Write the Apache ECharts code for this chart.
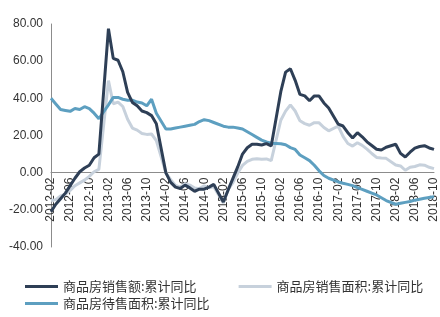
<!DOCTYPE html>
<html>
<head>
<meta charset="utf-8">
<script src="https://cdn.jsdelivr.net/npm/echarts@6/dist/echarts.min.js"></script>
<style>
    html, body { margin: 0; padding: 0; background: #fff; }
    #main { width: 440px; height: 317px; }
</style>
</head>
<body>
<div id="main"></div>
<script>
// months 2012-02 .. 2018-10, january has no value (jan-feb reported together)
var startYear = 2012, startMonth = 2, endYear = 2018, endMonth = 10;

var seriesNames = ['商品房销售额:累计同比', '商品房销售面积:累计同比', '商品房待售面积:累计同比'];

var salesAmount = [
    -21.0, -17.0, -14.0, -11.0, -7.0, -3.0, 0.5, 2.5, 4.0, 8.0, 10.0,
    null, 77.5, 61.5, 60.5, 54.3, 43.2, 37.8, 36.0, 33.2, 32.3, 30.7, 26.3,
    null, -0.1, -5.2, -7.8, -8.5, -6.7, -8.2, -10.0, -8.9, -8.9, -7.8, -6.3,
    null, -15.8, -9.3, -3.1, 3.1, 10.0, 13.4, 15.3, 15.3, 14.9, 15.6, 14.4,
    null, 43.6, 54.1, 55.9, 49.7, 42.1, 41.3, 38.7, 41.3, 41.2, 37.5, 34.8,
    null, 26.1, 25.1, 21.5, 18.6, 21.5, 19.3, 16.6, 14.6, 12.6, 12.2, 13.7,
    null, 15.3, 10.4, 8.4, 11.0, 13.2, 14.1, 14.5, 13.3, 12.5
];

var salesArea = [
    -15.0, -14.5, -12.5, -11.5, -9.5, -7.0, -5.5, -4.0, -2.0, 0.5, 1.8,
    null, 49.5, 37.1, 38.0, 35.6, 28.7, 24.0, 22.9, 21.1, 20.6, 20.8, 17.3,
    null, -0.1, -3.8, -6.9, -7.8, -6.0, -6.7, -8.3, -8.6, -7.1, -8.2, -7.6,
    null, -16.3, -9.2, -5.4, -0.2, 3.9, 6.1, 7.2, 7.5, 7.2, 7.4, 6.5,
    null, 28.2, 33.1, 36.5, 33.2, 27.9, 26.4, 25.5, 26.9, 26.8, 24.3, 22.5,
    null, 25.1, 19.5, 15.7, 14.3, 16.1, 14.7, 12.7, 10.3, 8.2, 7.9, 7.7,
    null, 4.1, 3.6, 1.3, 2.9, 3.3, 4.2, 4.0, 2.9, 2.2
];

var unsoldArea = [
    40.0, 37.0, 34.0, 33.5, 33.0, 34.5, 34.0, 35.5, 34.5, 32.0, 29.0,
    null, 36.5, 40.5, 40.5, 39.5, 39.0, 39.0, 38.0, 37.5, 36.0, 39.5, 32.0,
    null, 23.5, 23.5, 24.0, 24.5, 25.0, 25.5, 26.0, 27.5, 28.5, 28.0, 27.0,
    null, 25.0, 24.5, 24.5, 24.0, 23.5, 22.0, 20.5, 19.0, 17.5, 16.5, 15.8,
    null, 15.6, 15.0, 13.5, 12.5, 9.5, 8.0, 6.5, 4.0, 1.0, -1.5, -3.0,
    null, -5.0, -5.7, -6.3, -7.0, -8.0, -9.0, -10.0, -11.0, -12.0, -13.5, -15.0,
    null, -17.0, -16.5, -16.0, -15.5, -14.8, -14.3, -13.8, -13.4, -13.0
];

var categories = [];
for (var y = startYear; y <= endYear; y++) {
    for (var m = 1; m <= 12; m++) {
        if (y == startYear && m < startMonth) continue;
        if (y == endYear && m > endMonth) break;
        categories.push(y + '-' + (m < 10 ? '0' + m : m));
    }
}

var dom = document.getElementById('main');
var myChart = echarts.init(dom);
var option = null;

var gridTop = 24, gridBottom = 70, chartH = 317;
// move the x axis (line + labels) up to the zero line
var plotH = chartH - gridTop - gridBottom;
var zeroShift = -plotH * 40 / 120;

var legendText = {
    color: '#333',
    fontSize: 13,
    fontFamily: '"Noto Sans CJK SC", sans-serif'
};

option = {
    animation: false,
    textStyle: {
        fontFamily: 'Liberation Sans, Arial, "Noto Sans CJK SC", sans-serif'
    },
    grid: {
        left: 51,
        right: 1,
        top: gridTop,
        bottom: gridBottom
    },
    legend: [
        {
            left: 20,
            top: 275,
            itemWidth: 33,
            itemHeight: 3,
            itemGap: 42,
            icon: 'rect',
            data: [seriesNames[0], seriesNames[1]],
            textStyle: legendText
        },
        {
            left: 20,
            top: 292,
            itemWidth: 33,
            itemHeight: 3,
            icon: 'rect',
            data: [seriesNames[2]],
            textStyle: legendText
        }
    ],
    xAxis: {
        type: 'category',
        boundaryGap: false,
        data: categories,
        offset: zeroShift,
        axisLine: {
            onZero: false,
            lineStyle: { color: '#8c8c8c', width: 1 }
        },
        axisTick: { show: false },
        axisLabel: {
            interval: 3,
            rotate: 90,
            margin: 5,
            color: '#333',
            fontSize: 12
        }
    },
    yAxis: {
        type: 'value',
        min: -40,
        max: 80,
        interval: 20,
        axisLine: {
            show: true,
            lineStyle: { color: '#8c8c8c', width: 1 }
        },
        axisTick: { show: false },
        splitLine: { show: false },
        axisLabel: {
            margin: 8,
            color: '#333',
            fontSize: 12,
            formatter: function (v) { return v.toFixed(2); }
        }
    },
    series: [
        {
            name: seriesNames[1],
            type: 'line',
            data: salesArea,
            connectNulls: true,
            symbol: 'none',
            lineStyle: { color: '#c7d1dc', width: 3 },
            itemStyle: { color: '#c7d1dc' }
        },
        {
            name: seriesNames[2],
            type: 'line',
            data: unsoldArea,
            connectNulls: true,
            symbol: 'none',
            lineStyle: { color: '#5d9fc0', width: 3 },
            itemStyle: { color: '#5d9fc0' }
        },
        {
            name: seriesNames[0],
            type: 'line',
            data: salesAmount,
            connectNulls: true,
            symbol: 'none',
            lineStyle: { color: '#2e3f56', width: 3 },
            itemStyle: { color: '#2e3f56' }
        }
    ]
};

if (option && typeof option === "object") {
    myChart.setOption(option, true);
    window.onresize = myChart.resize;
}
</script>
</body>
</html>
